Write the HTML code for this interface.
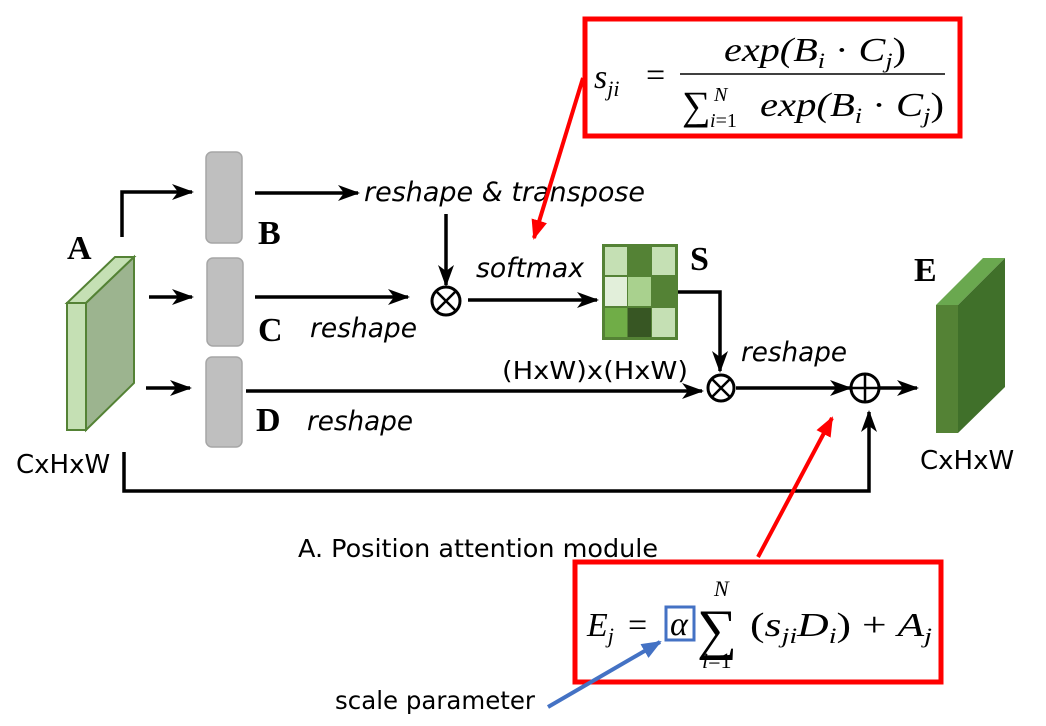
<!DOCTYPE html>
<html><head><meta charset="utf-8"><style>
html,body{margin:0;padding:0;background:#fff;}
svg{display:block;}
.it{font-family:"DejaVu Sans","Liberation Sans",sans-serif;font-style:italic;font-size:26.5px;}
.n{font-family:"DejaVu Sans","Liberation Sans",sans-serif;font-size:25px;}
.b{font-family:"Liberation Serif",serif;font-weight:bold;font-size:34px;}
.m{font-family:"Liberation Serif",serif;font-style:italic;font-size:34px;}
.mr{font-family:"Liberation Serif",serif;font-size:34px;}
</style></head><body>
<svg width="1046" height="726" viewBox="0 0 1046 726" xmlns="http://www.w3.org/2000/svg">
<defs>
<marker id="ahb" markerWidth="22" markerHeight="16" refX="20" refY="8" orient="auto" markerUnits="userSpaceOnUse"><path d="M0,0 L22,8 L0,16 L6,8 Z" fill="#000"/></marker>
<marker id="ahr" markerWidth="20" markerHeight="16" refX="18" refY="8" orient="auto" markerUnits="userSpaceOnUse"><path d="M0,0 L20,8 L0,16 Z" fill="#f00"/></marker>
<marker id="ahbl" markerWidth="20" markerHeight="16" refX="18" refY="8" orient="auto" markerUnits="userSpaceOnUse"><path d="M0,0 L20,8 L0,16 Z" fill="#4472c4"/></marker>
</defs>

<!-- A cuboid -->
<polygon points="67,303 86,303 134,257 115,257" fill="#c5e0b4" stroke="#548235" stroke-width="2"/>
<polygon points="86,303 134,257 134,383 86,430" fill="#9cb48f" stroke="#548235" stroke-width="2"/>
<rect x="67" y="303" width="19" height="127" fill="#c5e0b4" stroke="#548235" stroke-width="2"/>
<text class="b" x="67" y="259">A</text>
<text class="n" x="16" y="473" style="font-size:26px">CxHxW</text>

<!-- E cuboid -->
<polygon points="936,305 958,305 1005,258 983,258" fill="#6aa84f"/>
<polygon points="958,305 1005,258 1005,387 958,433" fill="#40702a"/>
<rect x="936" y="305" width="22" height="128" fill="#548235"/>
<text class="b" x="914" y="281">E</text>
<text class="n" x="920" y="469" style="font-size:26px">CxHxW</text>

<!-- gray blocks -->
<rect x="206" y="152" width="36" height="91" rx="6" fill="#bfbfbf" stroke="#a6a6a6" stroke-width="1.5"/>
<rect x="207" y="258" width="36" height="88" rx="6" fill="#bfbfbf" stroke="#a6a6a6" stroke-width="1.5"/>
<rect x="206" y="357" width="36" height="90" rx="6" fill="#bfbfbf" stroke="#a6a6a6" stroke-width="1.5"/>
<text class="b" x="258" y="244">B</text>
<text class="b" x="258" y="341">C</text>
<text class="b" x="256" y="431">D</text>

<g stroke="#000" stroke-width="3.5" fill="none">
<path d="M122,237 V192 H192" marker-end="url(#ahb)"/>
<path d="M149,297 H192" marker-end="url(#ahb)"/>
<path d="M146,388 H190" marker-end="url(#ahb)"/>
<path d="M255,193 H358" marker-end="url(#ahb)"/>
<path d="M255,297 H408" marker-end="url(#ahb)"/>
<path d="M446,214 V285" marker-end="url(#ahb)"/>
<path d="M468,300 H597" marker-end="url(#ahb)"/>
<path d="M246,391 H702" marker-end="url(#ahb)"/>
<path d="M678,292 H720 V371" marker-end="url(#ahb)"/>
<path d="M736,388 H850" marker-end="url(#ahb)"/>
<path d="M880,388 H917" marker-end="url(#ahb)"/>
<path d="M124,452 V491 H869 V412" marker-end="url(#ahb)"/>
</g>
<g stroke="#000" stroke-width="3" fill="#fff">
<circle cx="446" cy="301" r="14"/>
<circle cx="721" cy="388" r="13"/>
<circle cx="865" cy="388" r="14"/>
</g>
<g stroke="#000" stroke-width="2.5">
<path d="M436,291 L456,311 M456,291 L436,311"/>
<path d="M712,379 L730,397 M730,379 L712,397"/>
<path d="M851,388 H879 M865,374 V402"/>
</g>

<!-- matrix -->
<rect x="602" y="244" width="76" height="96" fill="#548235"/>
<rect x="605" y="247" width="22" height="28" fill="#c5e0b4"/>
<rect x="628" y="247" width="23" height="28" fill="#548235"/>
<rect x="652" y="247" width="23" height="28" fill="#c5e0b4"/>
<rect x="605" y="277" width="22" height="29" fill="#e2efda"/>
<rect x="628" y="277" width="23" height="29" fill="#a9d18e"/>
<rect x="652" y="277" width="23" height="29" fill="#548235"/>
<rect x="605" y="308" width="22" height="29" fill="#70ad47"/>
<rect x="628" y="308" width="23" height="29" fill="#375623"/>
<rect x="652" y="308" width="23" height="29" fill="#c5e0b4"/>
<text class="b" x="690" y="270">S</text>

<!-- labels -->
<text class="it" x="364" y="201" textLength="281" lengthAdjust="spacingAndGlyphs">reshape &amp; transpose</text>
<text class="it" x="476" y="277" textLength="108" lengthAdjust="spacingAndGlyphs">softmax</text>
<text class="it" x="310" y="337" textLength="107" lengthAdjust="spacingAndGlyphs">reshape</text>
<text class="it" x="307" y="430" textLength="106" lengthAdjust="spacingAndGlyphs">reshape</text>
<text class="it" x="741" y="361" textLength="106" lengthAdjust="spacingAndGlyphs">reshape</text>
<text class="n" x="502" y="379" textLength="186" lengthAdjust="spacingAndGlyphs">(HxW)x(HxW)</text>
<text class="n" x="298" y="557" textLength="360" lengthAdjust="spacingAndGlyphs">A. Position attention module</text>
<text class="n" x="335" y="709" textLength="200" lengthAdjust="spacingAndGlyphs">scale parameter</text>

<!-- top formula box -->
<rect x="585" y="19" width="375" height="117" fill="#fff" stroke="#f00" stroke-width="5"/>
<text class="m" x="594" y="88">s<tspan font-size="22" dy="8">ji</tspan></text>
<text class="mr" x="646" y="86">=</text>
<text class="m" x="724" y="61" textLength="182" lengthAdjust="spacingAndGlyphs">exp(B<tspan font-size="22" dy="7">i</tspan><tspan dy="-7" font-style="normal"> · </tspan>C<tspan font-size="22" dy="7">j</tspan><tspan dy="-7" font-style="normal">)</tspan></text>
<line x1="680" y1="74" x2="945" y2="74" stroke="#000" stroke-width="1.5"/>
<text class="mr" x="682" y="119" style="font-size:40px">∑</text>
<text class="m" x="714" y="101" style="font-size:20px">N</text>
<text class="m" x="710" y="127" style="font-size:20px">i<tspan font-style="normal">=1</tspan></text>
<text class="m" x="760" y="116" textLength="184" lengthAdjust="spacingAndGlyphs">exp(B<tspan font-size="22" dy="7">i</tspan><tspan dy="-7" font-style="normal"> · </tspan>C<tspan font-size="22" dy="7">j</tspan><tspan dy="-7" font-style="normal">)</tspan></text>

<!-- bottom formula box -->
<rect x="575" y="562" width="366" height="120" fill="#fff" stroke="#f00" stroke-width="5"/>
<text class="m" x="587" y="636">E<tspan font-size="22" dy="7">j</tspan></text>
<text class="mr" x="628" y="636">=</text>
<rect x="666" y="607" width="28" height="33" fill="none" stroke="#4472c4" stroke-width="3"/>
<text class="m" x="670" y="635">α</text>
<text class="mr" x="697" y="648" style="font-size:56px">∑</text>
<text class="m" x="714" y="596" style="font-size:22px">N</text>
<text class="m" x="702" y="668" style="font-size:22px">i<tspan font-style="normal">=1</tspan></text>
<text class="mr" x="750" y="636" textLength="182" lengthAdjust="spacingAndGlyphs">(<tspan font-style="italic">s</tspan><tspan font-style="italic" font-size="22" dy="7">ji</tspan><tspan font-style="italic" dy="-7">D</tspan><tspan font-style="italic" font-size="22" dy="7">i</tspan><tspan dy="-7">) + </tspan><tspan font-style="italic">A</tspan><tspan font-style="italic" font-size="22" dy="7">j</tspan></text>

<!-- annotation arrows -->
<line x1="583" y1="78" x2="534" y2="238" stroke="#f00" stroke-width="4" marker-end="url(#ahr)"/>
<line x1="758" y1="557" x2="832" y2="418" stroke="#f00" stroke-width="4" marker-end="url(#ahr)"/>
<line x1="548" y1="707" x2="660" y2="642" stroke="#4472c4" stroke-width="4" marker-end="url(#ahbl)"/>
</svg>
</body></html>
